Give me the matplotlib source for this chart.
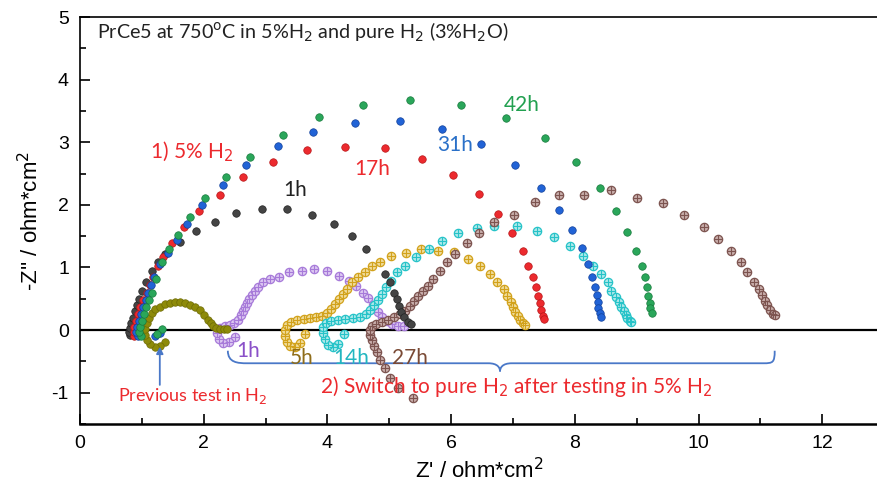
import matplotlib
matplotlib.use("Agg")
import matplotlib.pyplot as plt
from matplotlib.path import Path
from matplotlib.patches import PathPatch
import numpy as np

# ---------------- data (Z', -Z'') ----------------
# 5% H2 series (solid markers)
h5_1h_x = [0.81, 0.80, 0.81, 0.83, 0.86, 0.89, 0.92, 0.96, 1.00, 1.07, 1.16, 1.26, 1.37, 1.62, 1.87, 2.18, 2.52, 2.94, 3.34, 3.75, 4.10, 4.39, 4.62, 4.93, 5.01, 5.07, 5.12, 5.15, 5.19, 5.23, 5.30, 5.35]
h5_1h_y = [-0.08, -0.03, 0.04, 0.11, 0.20, 0.30, 0.40, 0.50, 0.62, 0.77, 0.94, 1.08, 1.21, 1.40, 1.58, 1.73, 1.87, 1.94, 1.94, 1.84, 1.69, 1.50, 1.29, 0.90, 0.76, 0.60, 0.50, 0.39, 0.29, 0.21, 0.13, 0.10]

h5_17h_x = [0.88, 0.87, 0.88, 0.91, 0.94, 0.97, 1.02, 1.08, 1.13, 1.18, 1.26, 1.34, 1.49, 1.68, 1.92, 2.26, 2.63, 3.12, 3.67, 4.28, 4.93, 5.53, 6.03, 6.45, 6.75, 6.98, 7.16, 7.25, 7.32, 7.37, 7.40, 7.43, 7.46, 7.48, 7.50]
h5_17h_y = [-0.10, -0.03, 0.05, 0.15, 0.26, 0.37, 0.48, 0.60, 0.72, 0.85, 1.02, 1.16, 1.39, 1.65, 1.90, 2.15, 2.45, 2.68, 2.87, 2.92, 2.90, 2.74, 2.48, 2.18, 1.85, 1.55, 1.27, 1.03, 0.84, 0.68, 0.55, 0.44, 0.32, 0.23, 0.18]

h5_31h_x = [1.30, 1.22, 0.93, 0.91, 0.92, 0.95, 0.98, 1.02, 1.06, 1.10, 1.15, 1.20, 1.29, 1.42, 1.57, 1.73, 1.97, 2.31, 2.68, 3.20, 3.76, 4.44, 5.17, 5.85, 6.49, 7.03, 7.45, 7.74, 7.96, 8.11, 8.21, 8.27, 8.32, 8.35, 8.37, 8.38, 8.40, 8.42]
h5_31h_y = [-0.05, -0.10, -0.10, -0.03, 0.05, 0.15, 0.26, 0.37, 0.48, 0.60, 0.72, 0.85, 1.05, 1.23, 1.44, 1.69, 2.00, 2.31, 2.63, 2.94, 3.16, 3.31, 3.34, 3.21, 2.97, 2.63, 2.27, 1.92, 1.60, 1.31, 1.06, 0.85, 0.69, 0.56, 0.45, 0.35, 0.27, 0.21]

h5_42h_x = [1.33, 1.25, 0.98, 0.96, 0.97, 1.00, 1.03, 1.07, 1.11, 1.16, 1.23, 1.32, 1.44, 1.58, 1.78, 2.02, 2.36, 2.75, 3.28, 3.86, 4.57, 5.33, 6.16, 6.88, 7.51, 8.01, 8.40, 8.66, 8.85, 8.98, 9.08, 9.13, 9.16, 9.19, 9.21, 9.22, 9.24]
h5_42h_y = [0.02, -0.06, -0.10, -0.03, 0.05, 0.15, 0.26, 0.37, 0.48, 0.60, 0.81, 1.08, 1.29, 1.52, 1.81, 2.11, 2.44, 2.77, 3.11, 3.40, 3.60, 3.68, 3.60, 3.39, 3.06, 2.68, 2.27, 1.90, 1.56, 1.27, 1.03, 0.84, 0.68, 0.55, 0.44, 0.35, 0.27]

# previous test in pure H2 (solid markers, olive)
prev_x = [1.37, 1.30, 1.21, 1.13, 1.08, 1.05, 1.05, 1.08, 1.12, 1.16, 1.22, 1.29, 1.37, 1.45, 1.53, 1.62, 1.70, 1.78, 1.86, 1.94, 2.01, 2.07, 2.11, 2.15, 2.20, 2.26, 2.32, 2.38]
prev_y = [-0.19, -0.26, -0.27, -0.23, -0.16, -0.08, 0.02, 0.11, 0.19, 0.27, 0.33, 0.37, 0.41, 0.44, 0.45, 0.45, 0.43, 0.40, 0.37, 0.32, 0.24, 0.16, 0.11, 0.06, 0.03, 0.02, 0.01, 0.01]

# pure H2 after 5% H2 (crossed-circle markers)
p_1h_x = [2.50, 2.41, 2.31, 2.25, 2.21, 2.26, 2.34, 2.42, 2.49, 2.55, 2.60, 2.63, 2.67, 2.70, 2.73, 2.78, 2.83, 2.88, 2.96, 3.07, 3.21, 3.38, 3.59, 3.78, 3.99, 4.18, 4.35, 4.46, 4.57, 4.65, 4.73, 4.81, 4.89, 4.96, 5.04, 5.14, 5.23]
p_1h_y = [-0.11, -0.19, -0.21, -0.15, -0.05, 0.03, 0.06, 0.08, 0.11, 0.16, 0.24, 0.31, 0.37, 0.44, 0.50, 0.56, 0.63, 0.69, 0.76, 0.81, 0.85, 0.92, 0.95, 0.98, 0.95, 0.87, 0.79, 0.71, 0.60, 0.52, 0.40, 0.29, 0.21, 0.15, 0.10, 0.06, 0.06]

p_5h_x = [3.63, 3.55, 3.47, 3.39, 3.34, 3.31, 3.31, 3.34, 3.41, 3.50, 3.62, 3.72, 3.81, 3.91, 3.99, 4.05, 4.12, 4.18, 4.25, 4.31, 4.39, 4.49, 4.60, 4.72, 4.85, 5.02, 5.27, 5.51, 5.78, 6.04, 6.27, 6.46, 6.62, 6.74, 6.85, 6.91, 6.96, 7.00, 7.04, 7.08, 7.12, 7.16, 7.19]
p_5h_y = [-0.06, -0.21, -0.27, -0.26, -0.19, -0.10, 0.00, 0.08, 0.13, 0.16, 0.18, 0.19, 0.21, 0.23, 0.27, 0.34, 0.42, 0.50, 0.58, 0.66, 0.76, 0.84, 0.92, 1.02, 1.08, 1.18, 1.23, 1.29, 1.26, 1.24, 1.13, 1.02, 0.90, 0.77, 0.66, 0.55, 0.45, 0.37, 0.29, 0.23, 0.16, 0.11, 0.08]

p_14h_x = [4.26, 4.17, 4.09, 4.01, 3.96, 3.93, 3.93, 3.97, 4.05, 4.17, 4.28, 4.41, 4.52, 4.62, 4.68, 4.75, 4.81, 4.88, 4.94, 5.02, 5.12, 5.25, 5.43, 5.64, 5.85, 6.11, 6.41, 6.70, 7.06, 7.38, 7.66, 7.92, 8.13, 8.30, 8.43, 8.53, 8.59, 8.66, 8.71, 8.74, 8.79, 8.82, 8.85, 8.89, 8.90]
p_14h_y = [-0.06, -0.23, -0.27, -0.24, -0.15, -0.05, 0.05, 0.11, 0.15, 0.16, 0.18, 0.19, 0.21, 0.26, 0.32, 0.40, 0.48, 0.58, 0.68, 0.79, 0.92, 1.03, 1.16, 1.29, 1.42, 1.55, 1.63, 1.66, 1.66, 1.58, 1.48, 1.34, 1.18, 1.02, 0.89, 0.76, 0.63, 0.53, 0.45, 0.37, 0.31, 0.24, 0.19, 0.15, 0.13]

p_27h_x = [5.38, 5.14, 5.01, 4.93, 4.85, 4.80, 4.75, 4.72, 4.68, 4.68, 4.72, 4.78, 4.88, 4.98, 5.07, 5.17, 5.25, 5.33, 5.40, 5.46, 5.54, 5.62, 5.70, 5.82, 5.93, 6.07, 6.25, 6.45, 6.70, 7.01, 7.35, 7.75, 8.14, 8.59, 9.01, 9.43, 9.76, 10.08, 10.32, 10.53, 10.68, 10.79, 10.89, 10.97, 11.02, 11.07, 11.11, 11.15, 11.20, 11.23]
p_27h_y = [-1.08, -0.92, -0.77, -0.61, -0.48, -0.35, -0.26, -0.16, -0.08, 0.00, 0.06, 0.10, 0.13, 0.16, 0.21, 0.26, 0.31, 0.39, 0.47, 0.55, 0.63, 0.71, 0.81, 0.94, 1.08, 1.21, 1.39, 1.55, 1.73, 1.84, 2.05, 2.15, 2.16, 2.23, 2.11, 2.03, 1.84, 1.65, 1.45, 1.26, 1.08, 0.92, 0.77, 0.66, 0.56, 0.47, 0.40, 0.32, 0.26, 0.24]

# ---------------- figure ----------------
plt.rcParams['font.family'] = ['Liberation Sans', 'DejaVu Sans']
plt.rcParams['axes.unicode_minus'] = False
fig = plt.figure(figsize=(8.78, 4.93), dpi=100)
ax = fig.add_axes([80/878, 1-424/493, 1-80/878, (424-17)/493])
ax.set_xlim(0, 12.9)
ax.set_ylim(-1.5, 5.0)

ax.axhline(0, color='black', lw=1.6, zorder=1)

ms = 5.4
def solid(x, y, c, ec):
    ax.plot(x, y, 'o', ms=ms, mfc=c, mec=ec, mew=0.5, zorder=3)

def crossed(x, y, c, fc):
    ax.plot(x, y, 'o', ms=ms+0.6, mfc=fc, mec=c, mew=0.9, zorder=3)
    ax.plot(x, y, '+', ms=ms+0.6, mec=c, mew=0.8, zorder=3)

crossed(p_1h_x, p_1h_y, '#a77ad9', '#dcc8f2')
crossed(p_5h_x, p_5h_y, '#d2a21c', '#f0dc9a')
crossed(p_14h_x, p_14h_y, '#26c3c8', '#aee9ea')
crossed(p_27h_x, p_27h_y, '#7d5450', '#c9aeab')
solid(prev_x, prev_y, '#8d8a0a', '#6e6b05')
solid(h5_1h_x, h5_1h_y, '#444444', '#222222')
solid(h5_17h_x, h5_17h_y, '#ec2a2e', '#b81518')
solid(h5_31h_x, h5_31h_y, '#2163d6', '#11409a')
solid(h5_42h_x, h5_42h_y, '#2aa65a', '#177a3c')

# ticks & spines
ax.set_xticks(np.arange(0, 13, 2))
ax.set_xticks(np.arange(1, 13, 2), minor=True)
ax.set_yticks(np.arange(-1, 6, 1))
ax.set_yticks(np.arange(-1.5, 5.0, 0.5), minor=True)
ax.tick_params(which='both', direction='in', top=False, right=False, width=1.2)
ax.tick_params(which='major', length=7, labelsize=14, pad=8)
ax.tick_params(which='minor', length=4)
ax.spines['right'].set_visible(False)
ax.spines['bottom'].set_linewidth(1.8)
ax.spines['left'].set_linewidth(1.2)
ax.spines['top'].set_linewidth(1.2)

ax.set_xlabel("Z' / ohm*cm$^2$", fontsize=16, labelpad=4)
ax.set_ylabel("-Z'' / ohm*cm$^2$", fontsize=16, labelpad=6)

# annotations
tf = ['Lato', 'DejaVu Sans']
fs = 15
ax.text(0.27, 4.76, "PrCe5 at 750$^{\\rm o}$C in 5%H$_2$ and pure H$_2$ (3%H$_2$O)",
        fontsize=14.2, family=tf, va='center', ha='left', color='#222222')
ax.text(1.81, 2.85, "1) 5% H$_2$", fontsize=fs, family=tf, color='#ec2a2e', ha='center', va='center')
ax.text(3.47, 2.23, "1h", fontsize=fs, family=tf, color='#222222', ha='center', va='center')
ax.text(4.72, 2.58, "17h", fontsize=fs, family=tf, color='#ec2a2e', ha='center', va='center')
ax.text(6.06, 2.95, "31h", fontsize=fs, family=tf, color='#2a70c8', ha='center', va='center')
ax.text(7.14, 3.60, "42h", fontsize=fs, family=tf, color='#22a050', ha='center', va='center')
ax.text(2.71, -0.34, "1h", fontsize=fs, family=tf, color='#8a50c8', ha='center', va='center')
ax.text(3.59, -0.45, "5h", fontsize=fs, family=tf, color='#8f6d1a', ha='center', va='center')
ax.text(4.39, -0.45, "14h", fontsize=fs, family=tf, color='#22b6c0', ha='center', va='center')
ax.text(5.33, -0.45, "27h", fontsize=fs, family=tf, color='#7a4a35', ha='center', va='center')
ax.text(7.06, -0.90, "2) Switch to pure H$_2$ after testing in 5% H$_2$", fontsize=15, family=tf,
        color='#ec2a2e', ha='center', va='center')
ax.text(1.83, -1.05, "Previous test in H$_2$", fontsize=13, family=tf, color='#ec2a2e',
        ha='center', va='center')

# arrow
ax.annotate('', xy=(1.29, -0.22), xytext=(1.29, -0.92),
            arrowprops=dict(arrowstyle='-|>', color='#4a78c8', lw=1.3, mutation_scale=10))

# brace
bc = '#4a78c8'
verts = [(2.39, -0.33), (2.39, -0.52), (2.55, -0.53), (2.70, -0.53),
         (6.60, -0.53),
         (6.75, -0.53), (6.79, -0.60), (6.79, -0.66),
         (6.79, -0.60), (6.83, -0.53), (6.98, -0.53),
         (11.05, -0.53),
         (11.20, -0.53), (11.23, -0.52), (11.23, -0.33)]
codes = [Path.MOVETO, Path.CURVE4, Path.CURVE4, Path.CURVE4,
         Path.LINETO,
         Path.CURVE4, Path.CURVE4, Path.CURVE4,
         Path.CURVE4, Path.CURVE4, Path.CURVE4,
         Path.LINETO,
         Path.CURVE4, Path.CURVE4, Path.CURVE4]
ax.add_patch(PathPatch(Path(verts, codes), fc='none', ec=bc, lw=1.3, zorder=2))

fig.savefig('out.png', dpi=100)
